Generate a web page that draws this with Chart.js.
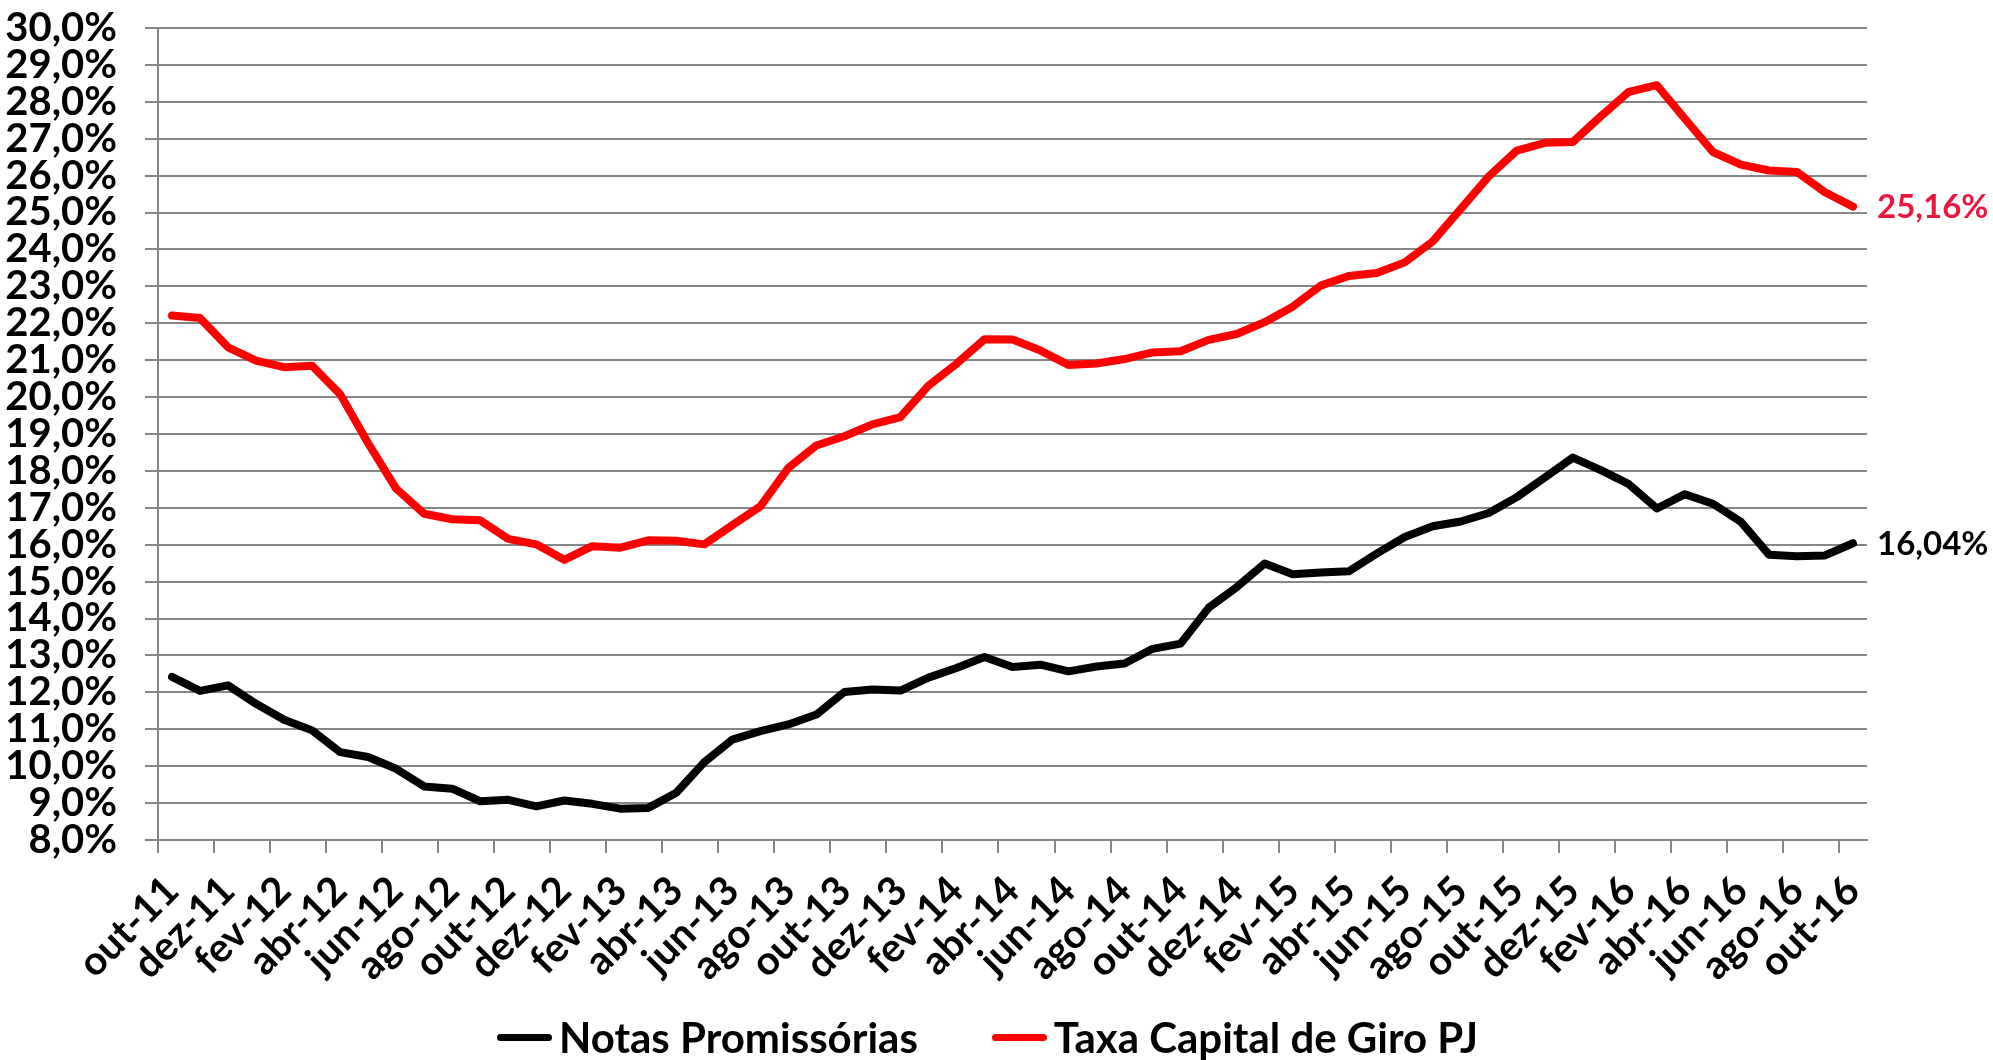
<!DOCTYPE html>
<html>
<head>
<meta charset="utf-8">
<title>Notas Promissórias x Taxa Capital de Giro PJ</title>
<script src="https://cdn.jsdelivr.net/npm/chart.js@4.4.0/dist/chart.umd.min.js"></script>
<style>
  body { margin: 0; background: #fff; }
  #wrap { position: relative; width: 1993px; height: 1060px; }
  #legend {
    position: absolute; left: 0; top: 1015px; width: 1975px;
    display: flex; justify-content: center; gap: 74px;
    font: bold 42px Lato, "Open Sans", sans-serif; line-height: 44px; color: #000;
  }
  #legend .item { display: flex; align-items: center; }
  #legend .swatch { width: 55px; height: 7px; border-radius: 4px; margin-right: 7px; }
</style>
</head>
<body>
<div id="wrap">
  <canvas id="rates-chart" width="1993" height="1060"></canvas>
  <div id="legend"></div>
</div>
<script>
const months = [
  "out-11", "nov-11", "dez-11",
  "jan-12", "fev-12", "mar-12", "abr-12", "mai-12", "jun-12", "jul-12", "ago-12", "set-12", "out-12", "nov-12", "dez-12",
  "jan-13", "fev-13", "mar-13", "abr-13", "mai-13", "jun-13", "jul-13", "ago-13", "set-13", "out-13", "nov-13", "dez-13",
  "jan-14", "fev-14", "mar-14", "abr-14", "mai-14", "jun-14", "jul-14", "ago-14", "set-14", "out-14", "nov-14", "dez-14",
  "jan-15", "fev-15", "mar-15", "abr-15", "mai-15", "jun-15", "jul-15", "ago-15", "set-15", "out-15", "nov-15", "dez-15",
  "jan-16", "fev-16", "mar-16", "abr-16", "mai-16", "jun-16", "jul-16", "ago-16", "set-16", "out-16",
];

const notasPromissorias = [
  12.42, 12.04, 12.19, 11.69, 11.26, 10.97, 10.38, 10.25, 9.93, 9.45,
  9.39, 9.05, 9.09, 8.91, 9.07, 8.98, 8.85, 8.87, 9.28, 10.11,
  10.72, 10.95, 11.13, 11.4, 12.01, 12.08, 12.05, 12.4, 12.66, 12.96,
  12.69, 12.75, 12.57, 12.7, 12.78, 13.18, 13.32, 14.29, 14.85, 15.49,
  15.2, 15.25, 15.28, 15.76, 16.21, 16.5, 16.63, 16.86, 17.29, 17.82,
  18.36, 18.02, 17.64, 16.98, 17.37, 17.11, 16.62, 15.73, 15.69, 15.71, 16.04,
];

const capitalGiroPJ = [
  22.21, 22.14, 21.35, 20.99, 20.81, 20.85, 20.08, 18.75, 17.52, 16.84,
  16.69, 16.66, 16.16, 16.01, 15.59, 15.96, 15.92, 16.12, 16.11, 16.01,
  16.53, 17.04, 18.08, 18.69, 18.94, 19.26, 19.46, 20.31, 20.9, 21.57,
  21.56, 21.26, 20.87, 20.91, 21.03, 21.21, 21.24, 21.55, 21.71, 22.03,
  22.45, 23.02, 23.28, 23.36, 23.65, 24.22, 25.1, 25.98, 26.68, 26.89,
  26.91, 27.61, 28.27, 28.45, 27.54, 26.64, 26.3, 26.14, 26.1, 25.55, 25.16,
];

const yMin = 8;
const yMax = 30;
const yStep = 1;

const FONT = "Lato, 'Open Sans', sans-serif";
const FONT_SIZE = 40;
const GRID = "#868686";

// value label at the end of each line
const endLabels = {
  id: "endLabels",
  afterDatasetsDraw(chart) {
    const ctx = chart.ctx;
    ctx.save();
    ctx.font = "bold 33px " + FONT;
    ctx.textAlign = "left";
    ctx.textBaseline = "middle";
    chart.data.datasets.forEach((ds, i) => {
      const meta = chart.getDatasetMeta(i);
      const last = meta.data[meta.data.length - 1];
      const val = ds.data[ds.data.length - 1];
      ctx.fillStyle = ds.endLabelColor;
      ctx.fillText(val.toFixed(2).replace(".", ",") + "%", last.x + 24, last.y + 1);
    });
    ctx.restore();
  },
};

// legend drawn as html under the canvas (wider item gap than the built-in one)
const htmlLegend = {
  id: "htmlLegend",
  afterUpdate(chart) {
    const box = document.getElementById("legend");
    box.innerHTML = "";
    chart.data.datasets.forEach((ds) => {
      const item = document.createElement("div");
      item.className = "item";
      const swatch = document.createElement("span");
      swatch.className = "swatch";
      swatch.style.background = ds.borderColor;
      const text = document.createElement("span");
      text.textContent = ds.label;
      item.appendChild(swatch);
      item.appendChild(text);
      box.appendChild(item);
    });
  },
};

const ctx = document.getElementById("rates-chart");
new Chart(ctx, {
  type: "line",
  data: {
    labels: months,
    datasets: [
      {
        label: "Notas Promissórias",
        data: notasPromissorias,
        borderColor: "#000000",
        backgroundColor: "#000000",
        endLabelColor: "#000000",
        borderWidth: 8,
        pointRadius: 0,
        borderCapStyle: "round",
        borderJoinStyle: "round",
      },
      {
        label: "Taxa Capital de Giro PJ",
        data: capitalGiroPJ,
        borderColor: "#ff0000",
        backgroundColor: "#ff0000",
        endLabelColor: "#e8173f",
        borderWidth: 8,
        pointRadius: 0,
        borderCapStyle: "round",
        borderJoinStyle: "round",
      },
    ],
  },
  options: {
    responsive: false,
    animation: false,
    layout: {
      padding: { left: 0, right: 126, top: 28, bottom: 70 },
    },
    plugins: {
      legend: { display: false },
      tooltip: { enabled: false },
    },
    scales: {
      x: {
        offset: true,
        grid: {
          offset: true,
          drawOnChartArea: false,
          tickLength: 13,
          lineWidth: 2,
          color: (c) => (c.index % 2 === 0 ? GRID : "rgba(0,0,0,0)"),
        },
        border: { display: true, color: GRID, width: 2 },
        ticks: {
          autoSkip: false,
          maxRotation: 45,
          minRotation: 45,
          padding: 14,
          color: "#000",
          font: { family: FONT, size: FONT_SIZE, weight: "bold" },
          callback: (v, i) => (i % 2 === 0 ? months[i] : ""),
        },
        afterFit: (scale) => {
          scale.height = 150;
        },
      },
      y: {
        min: yMin,
        max: yMax,
        grid: {
          color: GRID,
          lineWidth: 2,
          tickLength: 13,
        },
        border: { display: true, color: GRID, width: 2 },
        ticks: {
          stepSize: yStep,
          autoSkip: false,
          padding: 28,
          color: "#000",
          font: { family: FONT, size: FONT_SIZE, weight: "bold" },
          callback: (v) => v.toFixed(1).replace(".", ",") + "%",
        },
        afterFit: (scale) => {
          scale.width = 158;
          // top label fits inside the layout padding
          scale.paddingTop = 0;
          scale.paddingBottom = 0;
        },
      },
    },
  },
  plugins: [endLabels, htmlLegend],
});
</script>
</body>
</html>
